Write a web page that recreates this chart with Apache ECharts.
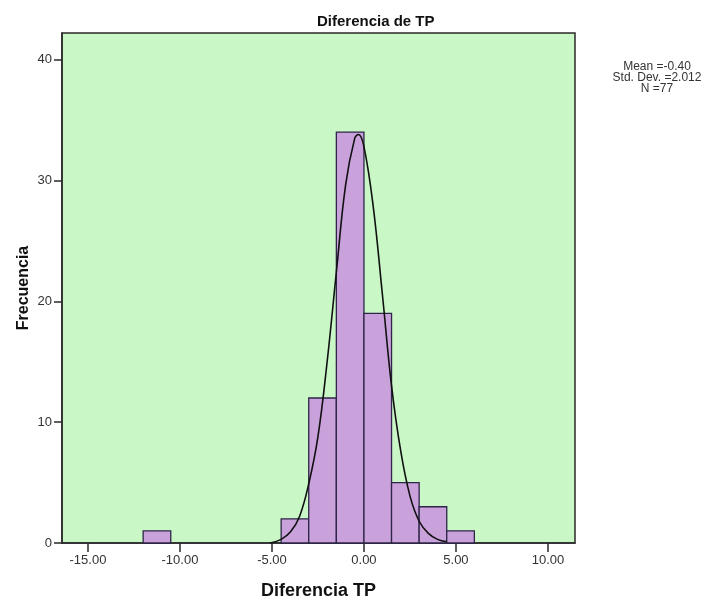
<!DOCTYPE html>
<html>
<head>
<meta charset="utf-8">
<title>Diferencia de TP</title>
<script src="https://cdn.jsdelivr.net/npm/echarts@6/dist/echarts.min.js"></script>
<style>
  html, body { margin: 0; padding: 0; background: #ffffff; }
  #chart { width: 720px; height: 605px; }
</style>
</head>
<body>
<div id="chart"></div>
<script>
// Histogram bins (left edge of each 1.5-wide bin) and their counts
const binLeft = [-12, -4.5, -3, -1.5, 0, 1.5, 3, 4.5];
const binCounts = [1, 2, 12, 34, 19, 5, 3, 1];
const binWidth = 1.5;

// Fitted normal curve, sampled along x
const curveX = [-5.1, -4.5, -4.0, -3.5, -3.0, -2.5, -2.0, -1.5, -1.0, -0.5, -0.3, 0.0, 0.5, 1.0, 1.5, 2.0, 2.5, 3.0, 3.5, 4.0, 4.5];
const curveY = [0.0, 0.3, 0.9, 2.2, 4.9, 8.8, 15.0, 22.4, 29.6, 33.5, 33.8, 32.8, 27.9, 20.6, 13.0, 7.6, 3.9, 1.8, 0.8, 0.3, 0.1];

// Axis ticks
const xTicks = [-15, -10, -5, 0, 5, 10];
const yTicks = [0, 10, 20, 30, 40];

// Summary statistics
const statsLines = ['Mean =-0.40', 'Std. Dev. =2.012', 'N =77'];

const FONT = '"Liberation Sans", Arial, sans-serif';

const chart = echarts.init(document.getElementById('chart'), null, { renderer: 'canvas' });

const barData = binLeft.map((l, i) => [l, l + binWidth, binCounts[i]]);
const lineData = curveX.map((x, i) => [x, curveY[i]]);

chart.setOption({
  animation: false,
  backgroundColor: '#ffffff',
  grid: {
    left: 62, right: 145, top: 33, bottom: 62,
    show: true,
    backgroundColor: '#c9f7c6',
    borderColor: '#2a2a2a',
    borderWidth: 1.5
  },
  xAxis: {
    type: 'value',
    min: -16.41,
    max: 11.47,
    name: 'Diferencia TP',
    nameLocation: 'middle',
    nameGap: 39,
    nameMoveOverlap: false,
    nameTextStyle: { fontFamily: FONT, fontSize: 18, fontWeight: 'bold', color: '#111' },
    axisLine: { show: true, onZero: false, lineStyle: { color: '#2a2a2a', width: 1.5 } },
    axisTick: { show: true, length: 9, customValues: xTicks, lineStyle: { color: '#2a2a2a', width: 1.5 } },
    axisLabel: {
      customValues: xTicks,
      margin: 11,
      fontFamily: FONT, fontSize: 13, color: '#333',
      formatter: v => v.toFixed(2)
    },
    splitLine: { show: false }
  },
  yAxis: {
    type: 'value',
    min: 0,
    max: 42.2,
    name: 'Frecuencia',
    nameLocation: 'middle',
    nameGap: 30,
    nameRotate: 90,
    nameMoveOverlap: false,
    nameTextStyle: { fontFamily: FONT, fontSize: 16, fontWeight: 'bold', color: '#111' },
    axisLine: { show: true, onZero: false, lineStyle: { color: '#2a2a2a', width: 1.5 } },
    axisTick: { show: true, length: 8, customValues: yTicks, lineStyle: { color: '#2a2a2a', width: 1.5 } },
    axisLabel: {
      customValues: yTicks,
      margin: 10,
      fontFamily: FONT, fontSize: 13, color: '#333'
    },
    splitLine: { show: false }
  },
  graphic: [
    {
      type: 'text',
      left: 317, top: 14,
      style: {
        text: 'Diferencia de TP',
        fontFamily: FONT, fontSize: 15, fontWeight: 'bold', fill: '#111'
      }
    },
    {
      type: 'text',
      x: 657, y: 61,
      style: {
        text: statsLines.join('\n'),
        align: 'center',
        verticalAlign: 'top',
        lineHeight: 11,
        fontFamily: FONT, fontSize: 12, fill: '#333'
      }
    }
  ],
  series: [
    {
      type: 'custom',
      data: barData,
      encode: { x: [0, 1], y: 2 },
      renderItem: function (params, api) {
        const p0 = api.coord([api.value(0), 0]);
        const p1 = api.coord([api.value(1), api.value(2)]);
        return {
          type: 'rect',
          shape: { x: p0[0], y: p1[1], width: p1[0] - p0[0], height: p0[1] - p1[1] },
          style: { fill: '#c9a2db', stroke: '#2e2548', lineWidth: 1.3 }
        };
      },
      z: 2
    },
    {
      type: 'line',
      data: lineData,
      smooth: 0.4,
      showSymbol: false,
      symbol: 'none',
      lineStyle: { color: '#111', width: 1.6 },
      z: 3
    }
  ]
});
</script>
</body>
</html>
